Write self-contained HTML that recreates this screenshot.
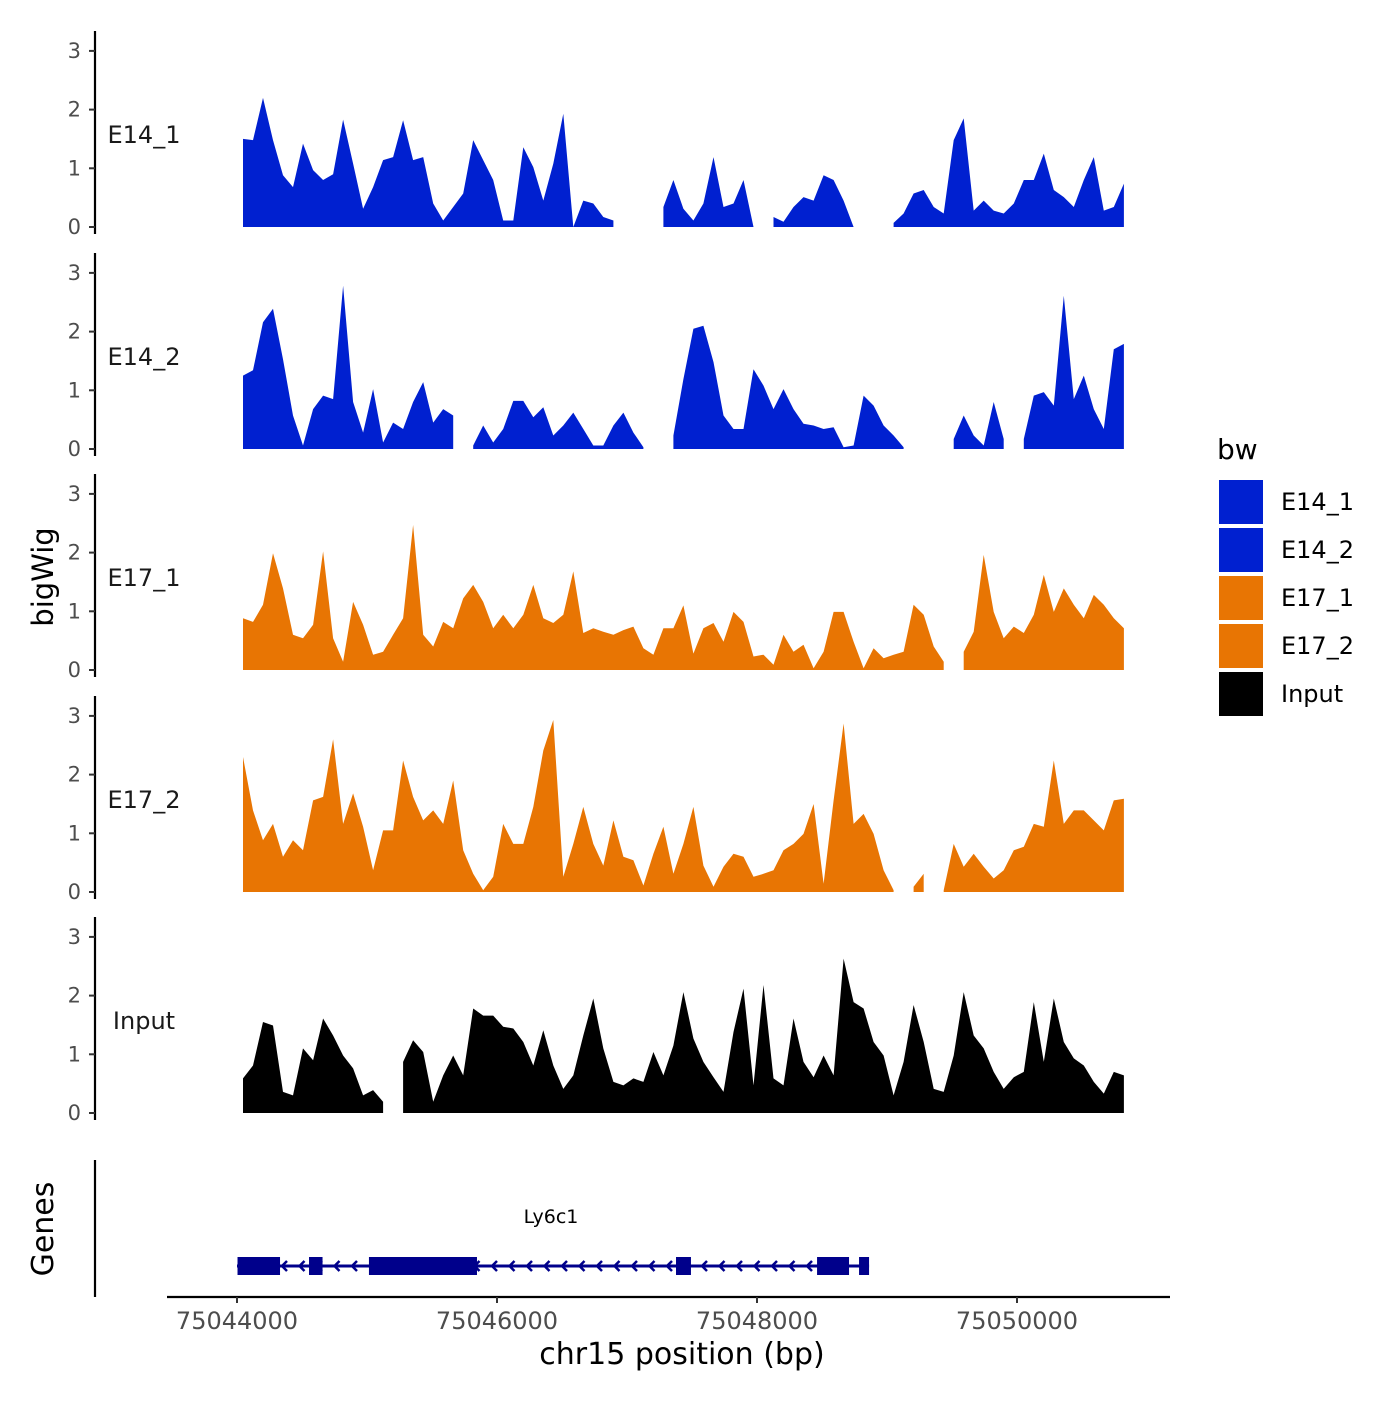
<!DOCTYPE html>
<html><head><meta charset="utf-8"><style>
body{margin:0;background:#fff}
svg text{font-family:"DejaVu Sans","Liberation Sans",sans-serif}
</style></head><body>
<svg id="chart" width="1400" height="1400" viewBox="0 0 1400 1400"></svg>
<script>
const trackNames = ["E14_1","E14_2","E17_1","E17_2","Input"];
const trackColors = ["#0020d0","#0020d0","#e87503","#e87503","#000000"];
const binStartBp = 75044046;
const binSizeBp = 77;
const yTicks = [0,1,2,3];
const xTicks = [75044000,75046000,75048000,75050000];
const e14_1 = [1.5,1.48,2.2,1.48,0.88,0.68,1.42,0.97,0.8,0.9,1.83,1.08,0.31,0.68,1.14,1.19,1.82,1.14,1.19,0.4,0.11,0.34,0.57,1.48,1.14,0.8,0.11,0.11,1.36,1.02,0.45,1.08,1.93,0,0.45,0.4,0.17,0.11,null,null,null,null,0.34,0.8,0.31,0.11,0.4,1.19,0.34,0.4,0.8,0,null,0.17,0.09,0.34,0.51,0.45,0.88,0.8,0.45,0,null,null,null,0.07,0.23,0.57,0.63,0.34,0.23,1.48,1.85,0.28,0.45,0.28,0.23,0.4,0.8,0.8,1.25,0.63,0.51,0.34,0.8,1.19,0.28,0.34,0.74];
const e14_2 = [1.25,1.34,2.16,2.39,1.53,0.57,0.06,0.68,0.91,0.85,2.78,0.8,0.28,1.02,0.11,0.45,0.34,0.8,1.14,0.45,0.68,0.57,null,0.06,0.4,0.11,0.34,0.82,0.82,0.54,0.71,0.23,0.4,0.62,0.34,0.06,0.06,0.4,0.62,0.28,0.03,null,null,0.23,1.19,2.05,2.1,1.48,0.57,0.34,0.34,1.36,1.08,0.68,1.02,0.68,0.43,0.4,0.34,0.37,0.03,0.06,0.91,0.74,0.4,0.23,0.03,null,null,null,null,0.17,0.57,0.23,0.06,0.8,0.17,null,0.17,0.91,0.97,0.74,2.61,0.85,1.25,0.68,0.34,1.7,1.79];
const e17_1 = [0.88,0.82,1.11,1.99,1.39,0.6,0.54,0.77,2.02,0.54,0.14,1.16,0.77,0.26,0.31,0.6,0.88,2.47,0.6,0.4,0.82,0.71,1.22,1.45,1.16,0.71,0.94,0.71,0.94,1.45,0.88,0.8,0.94,1.68,0.63,0.71,0.65,0.6,0.68,0.74,0.37,0.26,0.71,0.71,1.1,0.28,0.71,0.8,0.48,0.99,0.82,0.23,0.26,0.09,0.6,0.31,0.43,0.03,0.31,0.99,0.99,0.48,0.03,0.37,0.2,0.26,0.31,1.11,0.94,0.4,0.14,null,0.31,0.65,1.96,0.99,0.54,0.74,0.63,0.94,1.62,0.99,1.39,1.11,0.88,1.28,1.11,0.88,0.71];
const e17_2 = [2.3,1.39,0.88,1.16,0.6,0.88,0.71,1.56,1.62,2.6,1.16,1.68,1.11,0.37,1.05,1.05,2.24,1.62,1.22,1.39,1.16,1.9,0.71,0.31,0.03,0.26,1.16,0.82,0.82,1.45,2.41,2.93,0.26,0.82,1.45,0.82,0.45,1.22,0.6,0.54,0.11,0.65,1.11,0.31,0.82,1.45,0.45,0.09,0.43,0.65,0.6,0.26,0.31,0.37,0.71,0.82,0.99,1.5,0.14,1.56,2.87,1.16,1.33,0.99,0.37,0.03,null,0.09,0.31,null,0.03,0.82,0.43,0.65,0.43,0.23,0.37,0.71,0.77,1.16,1.11,2.24,1.16,1.39,1.39,1.22,1.05,1.56,1.59];
const input = [0.59,0.81,1.55,1.49,0.36,0.3,1.1,0.9,1.61,1.32,0.98,0.76,0.3,0.39,0.19,null,0.87,1.24,1.04,0.19,0.64,0.98,0.64,1.78,1.66,1.66,1.47,1.44,1.21,0.81,1.41,0.81,0.41,0.64,1.32,1.95,1.1,0.53,0.47,0.59,0.53,1.04,0.64,1.15,2.06,1.27,0.87,0.61,0.36,1.38,2.12,0.47,2.18,0.59,0.47,1.61,0.87,0.61,0.98,0.64,2.63,1.89,1.78,1.21,0.98,0.3,0.87,1.84,1.21,0.41,0.36,0.98,2.06,1.32,1.1,0.7,0.41,0.61,0.7,1.89,0.87,1.95,1.21,0.93,0.81,0.53,0.33,0.7,0.64];
const trackValues = [e14_1,e14_2,e17_1,e17_2,input];
const exonStarts = [75044004,75044554,75045015,75047377,75048462,75048785];
const exonEnds = [75044331,75044658,75045846,75047492,75048708,75048862];
const geneStart = 75044000, geneEnd = 75048862;

const NS="http://www.w3.org/2000/svg";
const svg=document.getElementById('chart');
function mk(tag,attrs,parent){const e=document.createElementNS(NS,tag);for(const k in attrs)e.setAttribute(k,attrs[k]);(parent||svg).appendChild(e);return e;}
const xScale = bp => 237 + (bp-75044000)*0.13;
const baseY = [227,449,670,892,1113];
const yScale = (t,v) => baseY[t] - v*58.7;

for(let t=0;t<5;t++){
  const g=mk('g',{});
  
  
  const vals=trackValues[t];
  let seg=[];
  const flush=()=>{
    if(seg.length){
      let d='M'+seg[0][0].toFixed(1)+','+baseY[t];
      seg.forEach(p=>d+=' L'+p[0].toFixed(1)+','+p[1].toFixed(1));
      d+=' L'+seg[seg.length-1][0].toFixed(1)+','+baseY[t]+' Z';
      const p=mk('path',{d:d,fill:trackColors[t]},g);
      
      
    }
    seg=[];
  };
  vals.forEach((v,i)=>{
    if(v===null){flush();return;}
    seg.push([xScale(binStartBp+i*binSizeBp),yScale(t,v)]);
  });
  flush();
  const ax=mk('line',{x1:95,x2:95,y1:baseY[t]-196,y2:baseY[t]+7,stroke:'#000','stroke-width':2.2});
  
  
  yTicks.forEach(v=>{
    const y=yScale(t,v);
    const tk=mk('line',{x1:89,x2:95,y1:y,y2:y,stroke:'#333','stroke-width':2});
    
    
    const tl=mk('text',{x:81,y:y+7,'text-anchor':'end','font-size':21,fill:'#4d4d4d'});
    tl.textContent=v;
    
    
  });
  const lab=mk('text',{x:144,y:baseY[t]-84,'text-anchor':'middle','font-size':24,fill:'#1a1a1a'});
  lab.textContent=trackNames[t];
  
  
}

const gAx=mk('line',{x1:95,x2:95,y1:1160,y2:1297,stroke:'#000','stroke-width':2.2});


const gl=mk('line',{x1:xScale(geneStart),x2:xScale(geneEnd),y1:1266,y2:1266,stroke:'#00008b','stroke-width':3});


for(let x=xScale(geneStart)+10;x<xScale(geneEnd)-5;x+=17.5){
  const a=mk('path',{d:`M${x+5},1261 L${x},1266 L${x+5},1271`,fill:'none',stroke:'#00008b','stroke-width':2.5});
  
  
}
exonStarts.forEach((s,i)=>{
  const r=mk('rect',{x:xScale(s),y:1257,width:xScale(exonEnds[i])-xScale(s),height:18,fill:'#00008b'});
  
  
});
const gn=mk('text',{x:551,y:1223,'text-anchor':'middle','font-size':19,fill:'#000'});
gn.textContent='Ly6c1';



const xa=mk('line',{x1:167,x2:1170,y1:1297,y2:1297,stroke:'#000','stroke-width':2.2});


xTicks.forEach(v=>{
  const x=xScale(v);
  const tk=mk('line',{x1:x,x2:x,y1:1297,y2:1303,stroke:'#333','stroke-width':2});
  
  
  const tl=mk('text',{x:x,y:1329,'text-anchor':'middle','font-size':24,fill:'#4d4d4d'});
  tl.textContent=v;
  
  
});
const xt=mk('text',{x:682,y:1364,'text-anchor':'middle','font-size':30,fill:'#000'});
xt.textContent='chr15 position (bp)';


const yt=mk('text',{x:0,y:0,'text-anchor':'middle','font-size':29,fill:'#000',transform:'translate(53,577) rotate(-90)'});
yt.textContent='bigWig';


const gt=mk('text',{x:0,y:0,'text-anchor':'middle','font-size':30,fill:'#000',transform:'translate(53,1229) rotate(-90)'});
gt.textContent='Genes';



const lt=mk('text',{x:1217,y:459,'font-size':28,fill:'#000'});
lt.textContent='bw';


trackNames.forEach((n,i)=>{
  const y=480+i*48;
  const r=mk('rect',{x:1219,y:y,width:44,height:44,fill:trackColors[i]});
  
  
  const tx=mk('text',{x:1281,y:y+30,'font-size':24,fill:'#000'});
  tx.textContent=n;
  
  
});
</script>
</body></html>
